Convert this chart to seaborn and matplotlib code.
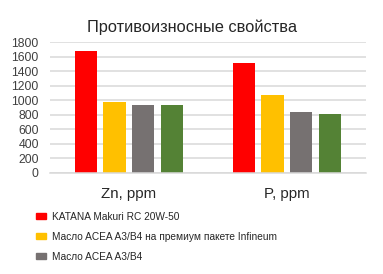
import matplotlib
matplotlib.use("Agg")
import matplotlib.pyplot as plt
import seaborn as sns
import pandas as pd

categories = ["Zn, ppm", "P, ppm"]
series = ["KATANA Makuri RC 20W-50",
          "Масло ACEA A3/B4 на премиум пакете Infineum",
          "Масло ACEA A3/B4",
          "Ряд 4"]
values_katana = [1675, 1515]
values_infineum = [975, 1070]
values_acea = [935, 835]
values_s4 = [940, 815]
colors = ["#FF0000", "#FFC000", "#767171", "#548235"]
yticks = [0, 200, 400, 600, 800, 1000, 1200, 1400, 1600, 1800]

rows = []
for s, vals in zip(series, [values_katana, values_infineum, values_acea, values_s4]):
    for c, v in zip(categories, vals):
        rows.append({"cat": c, "series": s, "value": v})
df = pd.DataFrame(rows)

sns.set_style("white")
plt.rcParams["font.family"] = ["Liberation Sans", "DejaVu Sans"]

fig = plt.figure(figsize=(3.83, 2.74), dpi=100)
ax = fig.add_axes([0.1305, 0.370, 0.8245, 0.476])

sns.barplot(data=df, x="cat", y="value", hue="series", palette=colors,
            width=0.728, gap=0.225, ax=ax, legend=False, saturation=1,
            linewidth=0, order=categories, hue_order=series)

ax.set_xlim(-0.5, 1.5)
ax.set_ylim(0, 1800)
ax.set_yticks(yticks)
ax.set_yticklabels([str(t) for t in yticks], fontsize=8.8, color="#404040")
ax.yaxis.grid(True, color="#D9D9D9", linewidth=1.1)
ax.set_axisbelow(True)
for side in ["left", "right", "top"]:
    ax.spines[side].set_visible(False)
ax.spines["bottom"].set_color("#D9D9D9")
ax.spines["bottom"].set_linewidth(1.1)
ax.tick_params(axis="y", length=0, pad=8)
ax.tick_params(axis="x", length=0, pad=10, labelsize=10.8, labelcolor="#262626")
ax.set_xlabel("")
ax.set_ylabel("")

fig.text(0.501, 0.884, "Противоизносные свойства", ha="center", va="baseline",
         fontsize=11.8, color="#262626")

handles = [plt.Rectangle((0, 0), 1, 1, color=c) for c in colors[:3]]
leg = fig.legend(handles, series[:3], loc="upper left",
                 bbox_to_anchor=(0.094, 0.228), frameon=False,
                 fontsize=7.25, handlelength=1.0, handleheight=0.5,
                 handletextpad=0.6, labelspacing=1.0, borderaxespad=0,
                 borderpad=0)
for t in leg.get_texts():
    t.set_color("#262626")

fig.savefig("out.png", dpi=100)
